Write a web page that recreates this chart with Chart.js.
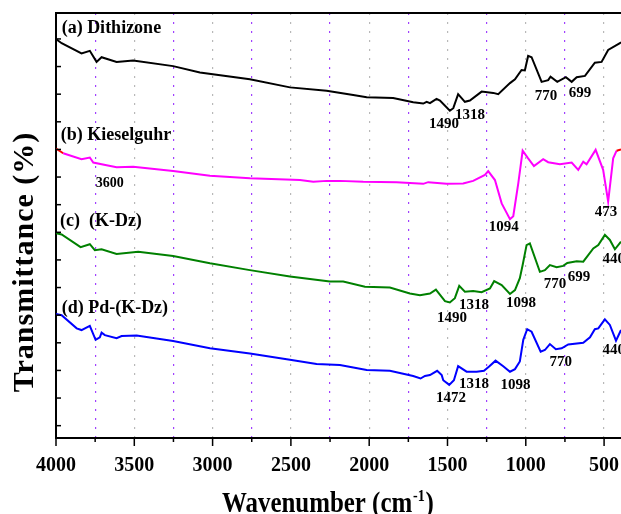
<!DOCTYPE html>
<html>
<head>
<meta charset="utf-8">
<script src="https://cdn.jsdelivr.net/npm/chart.js@4"></script>
<style>
  html, body { margin: 0; padding: 0; background: #fff; }
  #wrap { width: 621px; height: 514px; }
</style>
</head>
<body>
<div id="wrap"><canvas id="ftirChart"></canvas></div>
<script>
// wavenumbers (cm-1) and transmittance (offset, arbitrary units)
const wnA = [4000, 3964, 3837, 3784, 3741, 3709, 3613, 3507, 3252, 3081, 2762, 2506, 2272, 2102, 2016, 1847, 1719, 1655, 1633, 1612, 1570, 1548, 1485, 1463, 1432, 1389, 1357, 1282, 1208, 1176, 1101, 1069, 1027, 1006, 985, 963, 899, 857, 842, 799, 744, 707, 675, 622, 559, 516, 474, 399, 392];
const tA  = [93.9, 92.9, 90.5, 91.1, 88.5, 89.6, 88.5, 88.8, 87.5, 86.0, 84.4, 82.5, 81.7, 80.7, 80.2, 80.0, 79.0, 78.7, 79.1, 78.8, 79.8, 79.4, 77.0, 77.6, 80.9, 79.1, 79.4, 81.5, 81.2, 80.9, 83.5, 84.4, 86.6, 86.5, 89.9, 89.6, 83.8, 84.2, 85.0, 83.8, 84.9, 83.8, 84.9, 85.2, 88.3, 88.5, 91.3, 92.9, 93.1];

const wnB = [4000, 3954, 3837, 3784, 3762, 3677, 3613, 3507, 3252, 3017, 2762, 2442, 2357, 2272, 2187, 2038, 1825, 1655, 1623, 1506, 1400, 1336, 1261, 1240, 1197, 1154, 1101, 1080, 1048, 1020, 985, 948, 889, 857, 782, 707, 665, 633, 612, 554, 506, 474, 442, 420, 392];
const tB  = [68.1, 67.0, 65.6, 66.0, 64.8, 64.2, 63.7, 63.8, 62.8, 61.7, 61.1, 60.7, 60.3, 60.5, 60.5, 60.3, 60.2, 59.8, 60.2, 59.8, 59.9, 60.5, 61.9, 62.8, 60.7, 55.2, 51.5, 52.2, 59.9, 67.6, 65.8, 64.0, 65.6, 64.9, 64.4, 64.8, 63.1, 65.0, 64.4, 67.8, 63.1, 55.6, 65.8, 67.6, 67.9];

const wnC = [4000, 3964, 3843, 3784, 3752, 3709, 3613, 3475, 3252, 3017, 2762, 2506, 2251, 2166, 2027, 1868, 1740, 1676, 1612, 1574, 1516, 1485, 1453, 1425, 1389, 1336, 1282, 1229, 1202, 1154, 1101, 1069, 1038, 1020, 995, 974, 910, 878, 846, 803, 761, 735, 675, 633, 569, 537, 495, 463, 431, 392];
const tC  = [48.2, 47.9, 44.9, 45.6, 44.2, 44.4, 43.3, 43.8, 42.8, 41.1, 39.5, 38.0, 36.8, 36.8, 35.6, 35.4, 34.0, 33.6, 34.0, 34.9, 32.2, 31.9, 32.9, 35.8, 34.4, 34.6, 34.3, 35.2, 36.9, 36.0, 33.9, 34.8, 37.6, 40.7, 45.4, 45.8, 39.1, 39.5, 40.7, 40.2, 40.5, 41.2, 41.6, 41.5, 44.6, 45.4, 47.8, 46.6, 44.4, 46.2];

const wnD = [4000, 3964, 3868, 3837, 3784, 3747, 3720, 3709, 3688, 3613, 3581, 3485, 3252, 3017, 2762, 2506, 2336, 2187, 2016, 1868, 1719, 1672, 1644, 1612, 1566, 1537, 1527, 1489, 1459, 1432, 1378, 1314, 1267, 1234, 1193, 1144, 1101, 1069, 1038, 1016, 991, 963, 905, 878, 846, 808, 771, 729, 633, 590, 559, 537, 495, 463, 424, 392];
const tD  = [29.2, 28.9, 25.8, 25.4, 26.4, 23.1, 23.7, 24.8, 24.2, 23.5, 24.0, 24.1, 22.8, 21.1, 19.9, 18.4, 17.4, 17.2, 16.0, 15.8, 14.6, 14.0, 14.6, 14.8, 15.8, 14.8, 13.6, 12.5, 13.6, 16.9, 15.6, 15.6, 15.8, 16.8, 18.2, 16.9, 15.6, 16.2, 18.0, 23.1, 25.6, 25.0, 20.3, 20.7, 22.1, 20.9, 21.1, 22.0, 22.4, 23.7, 25.6, 25.8, 27.9, 26.6, 22.9, 25.4];

const xTicks = [4000, 3750, 3500, 3250, 3000, 2750, 2500, 2250, 2000, 1750, 1500, 1250, 1000, 750, 500];
const yTicks = [93.9, 87.4, 80.9, 74.4, 67.9, 61.4, 54.9, 48.4, 41.9, 35.4, 28.9, 22.4, 15.9, 9.4, 2.9];

// series names: [text, wavenumber, transmittance]
const seriesNames = [
    ['(a) Dithizone', 3964, 95.4],
    ['(b) Kieselguhr', 3969, 70.1],
    ['(c)  (K-Dz)', 3975, 49.9],
    ['(d) Pd-(K-Dz)', 3964, 29.3]
];
// peak labels: [text, wavenumber, transmittance]
const peakLabels = [
    ['1490', 1523, 72.9], ['1318', 1357, 75.1], ['770', 871, 79.5], ['699', 654, 80.3],
    ['1094', 1140, 48.8], ['473', 488, 52.2],
    ['1490', 1472, 27.4], ['1318', 1331, 30.3], ['1098', 1031, 30.9], ['770', 814, 35.4], ['699', 661, 37.0], ['440', 439, 41.1],
    ['1472', 1478, 8.5], ['1318', 1331, 11.7], ['1098', 1066, 11.5], ['770', 776, 17.0], ['440', 439, 19.8]
];
const smallLabels = [['3600', 3656, 59.1]];

const SERIF = '"Liberation Serif", "Times New Roman", serif';

function toPoints(xs, ys) {
    return xs.map((v, i) => ({ x: v, y: ys[i] }));
}

const decor = {
    id: 'decor',
    afterDraw(chart) {
        const { ctx, chartArea: a, scales: { x, y } } = chart;
        ctx.save();
        ctx.strokeStyle = '#000';
        ctx.lineWidth = 2;
        ctx.beginPath();
        ctx.moveTo(a.left - 1, a.top);
        ctx.lineTo(chart.width, a.top);
        ctx.stroke();

        ctx.lineWidth = 1.5;
        xTicks.forEach(v => {
            const px = x.getPixelForValue(v);
            const len = v % 500 === 0 ? 8 : 4;
            ctx.beginPath();
            ctx.moveTo(px, a.bottom);
            ctx.lineTo(px, a.bottom + len);
            ctx.stroke();
        });
        yTicks.forEach(v => {
            const py = y.getPixelForValue(v);
            ctx.beginPath();
            ctx.moveTo(a.left, py);
            ctx.lineTo(a.left + 5, py);
            ctx.stroke();
        });

        ctx.fillStyle = '#000';
        ctx.textBaseline = 'alphabetic';
        ctx.textAlign = 'left';
        ctx.font = 'bold 18px ' + SERIF;
        seriesNames.forEach(([t, wn, v]) => {
            ctx.fillText(t, x.getPixelForValue(wn), y.getPixelForValue(v));
        });
        ctx.textAlign = 'center';
        ctx.font = 'bold 15px ' + SERIF;
        peakLabels.forEach(([t, wn, v]) => {
            ctx.fillText(t, x.getPixelForValue(wn), y.getPixelForValue(v));
        });
        ctx.font = 'bold 14px ' + SERIF;
        smallLabels.forEach(([t, wn, v]) => {
            ctx.fillText(t, x.getPixelForValue(wn), y.getPixelForValue(v));
        });

        // y axis title
        ctx.save();
        ctx.translate(33, 262);
        ctx.rotate(-Math.PI / 2);
        ctx.font = 'bold 30px ' + SERIF;
        ctx.letterSpacing = '1px';
        ctx.fillText('Transmittance (%)', 0, 0);
        ctx.restore();

        // x axis title with superscript
        ctx.save();
        ctx.translate(222, 512);
        ctx.scale(0.83, 1);
        ctx.textAlign = 'left';
        ctx.font = 'bold 30px ' + SERIF;
        const main = 'Wavenumber (cm';
        ctx.fillText(main, 0, 0);
        let cx = ctx.measureText(main).width;
        ctx.font = 'bold 17px ' + SERIF;
        ctx.fillText('-1', cx + 1, -11);
        cx += ctx.measureText('-1').width + 2;
        ctx.font = 'bold 30px ' + SERIF;
        ctx.fillText(')', cx, 0);
        ctx.restore();

        ctx.restore();
    }
};

const ctx = document.getElementById('ftirChart').getContext('2d');

const ftirChart = new Chart(ctx, {
    type: 'line',
    data: {
        datasets: [{
            label: '(a) Dithizone',
            data: toPoints(wnA, tA),
            borderColor: '#000000',
            borderWidth: 2,
            pointRadius: 0
        }, {
            label: '(b) Kieselguhr',
            data: toPoints(wnB, tB),
            borderColor: '#ff00ff',
            borderWidth: 2,
            pointRadius: 0,
            segment: {
                borderColor: c => (c.p0DataIndex === 0 || c.p1DataIndex === wnB.length - 1) ? '#ff0000' : '#ff00ff'
            }
        }, {
            label: '(c) (K-Dz)',
            data: toPoints(wnC, tC),
            borderColor: '#008000',
            borderWidth: 2,
            pointRadius: 0
        }, {
            label: '(d) Pd-(K-Dz)',
            data: toPoints(wnD, tD),
            borderColor: '#0000ff',
            borderWidth: 2,
            pointRadius: 0
        }]
    },
    options: {
        responsive: true,
        maintainAspectRatio: false,
        animation: false,
        layout: { padding: { top: 13, left: 0, right: 0, bottom: 0 } },
        plugins: {
            legend: { display: false },
            tooltip: { enabled: false }
        },
        scales: {
            x: {
                type: 'linear',
                reverse: true,
                min: 392,
                max: 4000,
                afterBuildTicks: s => { s.ticks = xTicks.map(v => ({ value: v })); },
                afterFit: s => {
                    s.height = 76;
                    s.paddingLeft = 0;
                    s.paddingRight = 0;
                },
                ticks: {
                    callback: v => (v % 500 === 0 ? String(v) : ''),
                    font: { family: SERIF, size: 20, weight: 'bold' },
                    color: '#000',
                    padding: 16,
                    maxRotation: 0,
                    autoSkip: false
                },
                grid: {
                    drawTicks: false,
                    lineWidth: 1.2,
                    color: c => {
                        const v = c.tick && c.tick.value;
                        if (v === 4000) return 'rgba(0,0,0,0)';
                        return v % 500 === 0 ? '#b8b8b8' : '#a040ff';
                    }
                },
                border: { color: '#000', width: 2, dash: [2, 7] }
            },
            y: {
                min: 0,
                max: 100,
                afterFit: s => { s.width = 56; },
                ticks: { display: false },
                grid: { display: false },
                border: { color: '#000', width: 2 }
            }
        }
    },
    plugins: [decor]
});
</script>
</body>
</html>
